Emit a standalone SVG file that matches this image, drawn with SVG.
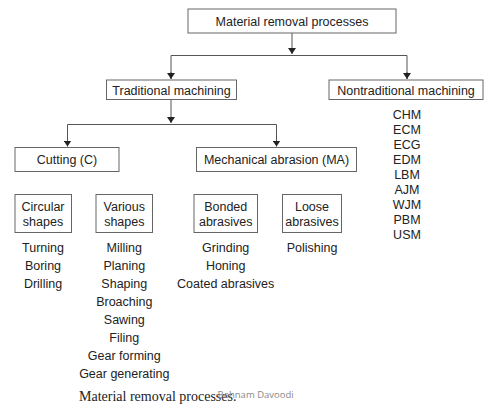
<svg xmlns="http://www.w3.org/2000/svg" width="484" height="406" viewBox="0 0 484 406">
<defs>
<marker id="ah" viewBox="0 0 6 8" refX="6" refY="4" markerWidth="6" markerHeight="8" markerUnits="userSpaceOnUse" orient="auto">
<path d="M0,0 L6,4 L0,8 Z" fill="#222"/>
</marker>
<style>
.box{fill:#fff;stroke:#666;stroke-width:1}
.ln{fill:none;stroke:#555;stroke-width:1}
.t{font-family:"Liberation Sans",Arial,sans-serif;font-size:12.5px;fill:#222;text-anchor:middle}
.cap{font-family:"Liberation Serif","Times New Roman",serif;font-size:14px;fill:#222}
.wm{font-family:"Open Sans","Liberation Sans",sans-serif;font-size:9.5px;fill:#888}
</style>
</defs>
<rect width="484" height="406" fill="#fff"/>
<g id="connectors">
<line class="ln" x1="292" y1="33" x2="292" y2="54" marker-end="url(#ah)"/>
<polyline class="ln" points="171,79 171,55.5 407,55.5 407,79"/>
<line class="ln" x1="171" y1="72" x2="171" y2="79" marker-end="url(#ah)"/>
<line class="ln" x1="407" y1="72" x2="407" y2="79" marker-end="url(#ah)"/>
<line class="ln" x1="171" y1="100" x2="171" y2="123" marker-end="url(#ah)"/>
<polyline class="ln" points="67.5,146 67.5,124.5 276.5,124.5 276.5,146"/>
<line class="ln" x1="67.5" y1="140" x2="67.5" y2="146.5" marker-end="url(#ah)"/>
<line class="ln" x1="276.5" y1="140" x2="276.5" y2="146.5" marker-end="url(#ah)"/>
</g>
<g id="root"><rect class="box" x="188" y="9" width="208" height="24"/><text class="t" x="292" y="25.5">Material removal processes</text></g>
<g id="traditional"><rect class="box" x="106.5" y="80" width="130" height="19.5"/><text class="t" x="171.5" y="94.5">Traditional machining</text></g>
<g id="nontraditional"><rect class="box" x="329" y="80" width="154" height="19.5"/><text class="t" x="406" y="94.5">Nontraditional machining</text></g>
<g id="nontrad-list">
<text class="t" x="407" y="118.5">CHM</text>
<text class="t" x="407" y="133.5">ECM</text>
<text class="t" x="407" y="148.5">ECG</text>
<text class="t" x="407" y="163.5">EDM</text>
<text class="t" x="407" y="178.5">LBM</text>
<text class="t" x="407" y="193.5">AJM</text>
<text class="t" x="407" y="208.5">WJM</text>
<text class="t" x="407" y="223.5">PBM</text>
<text class="t" x="407" y="238.5">USM</text>
</g>
<g id="cutting"><rect class="box" x="15" y="147.5" width="104" height="24"/><text class="t" x="67" y="164">Cutting (C)</text></g>
<g id="abrasion"><rect class="box" x="196.5" y="147.5" width="160" height="24"/><text class="t" x="276.5" y="164">Mechanical abrasion (MA)</text></g>
<g id="circular"><rect class="box" x="15" y="194.5" width="56.5" height="38"/><text class="t" x="43" y="211">Circular</text><text class="t" x="43" y="226">shapes</text>
<text class="t" x="43" y="252">Turning</text><text class="t" x="43" y="270">Boring</text><text class="t" x="43" y="288">Drilling</text></g>
<g id="various"><rect class="box" x="96" y="194.5" width="56.5" height="38"/><text class="t" x="124.3" y="211">Various</text><text class="t" x="124.3" y="226">shapes</text>
<text class="t" x="124.3" y="252">Milling</text><text class="t" x="124.3" y="270">Planing</text><text class="t" x="124.3" y="288">Shaping</text><text class="t" x="124.3" y="306">Broaching</text><text class="t" x="124.3" y="324">Sawing</text><text class="t" x="124.3" y="342">Filing</text><text class="t" x="124.3" y="360">Gear forming</text><text class="t" x="124.3" y="377.5">Gear generating</text></g>
<g id="bonded"><rect class="box" x="194" y="194.5" width="63.5" height="38"/><text class="t" x="225.7" y="211">Bonded</text><text class="t" x="225.7" y="226">abrasives</text>
<text class="t" x="225.7" y="252">Grinding</text><text class="t" x="225.7" y="270">Honing</text><text class="t" x="225.7" y="288">Coated abrasives</text></g>
<g id="loose"><rect class="box" x="282.5" y="194.5" width="59" height="38"/><text class="t" x="312" y="211">Loose</text><text class="t" x="312" y="226">abrasives</text>
<text class="t" x="312" y="252">Polishing</text></g>
<text class="cap" x="79" y="401">Material removal processes.</text>
<text class="wm" x="217.5" y="398">Behnam Davoodi</text>
</svg>
